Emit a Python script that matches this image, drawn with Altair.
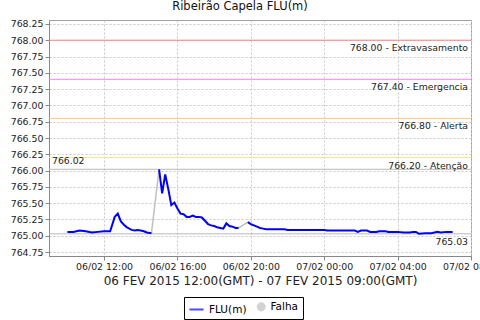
import altair as alt
import pandas as pd

# ---------------- data ----------------
seg1_t = ["2015-02-06T10:00", "2015-02-06T10:20", "2015-02-06T10:40", "2015-02-06T11:00",
          "2015-02-06T11:20", "2015-02-06T11:40", "2015-02-06T12:00", "2015-02-06T12:20",
          "2015-02-06T12:35", "2015-02-06T12:45", "2015-02-06T12:55", "2015-02-06T13:05",
          "2015-02-06T13:15", "2015-02-06T13:30", "2015-02-06T13:40", "2015-02-06T13:50",
          "2015-02-06T14:00", "2015-02-06T14:10", "2015-02-06T14:20", "2015-02-06T14:35"]
seg1_v = [765.06, 765.06, 765.08, 765.07, 765.05, 765.06, 765.07, 765.07,
          765.29, 765.34, 765.22, 765.17, 765.13, 765.09, 765.08, 765.09,
          765.08, 765.07, 765.05, 765.04]

seg2_t = ["2015-02-06T15:00", "2015-02-06T15:10", "2015-02-06T15:20", "2015-02-06T15:30",
          "2015-02-06T15:40", "2015-02-06T15:50", "2015-02-06T16:00", "2015-02-06T16:10",
          "2015-02-06T16:20", "2015-02-06T16:30", "2015-02-06T16:40", "2015-02-06T16:50",
          "2015-02-06T17:00", "2015-02-06T17:10", "2015-02-06T17:20", "2015-02-06T17:30",
          "2015-02-06T17:40", "2015-02-06T17:50", "2015-02-06T18:00", "2015-02-06T18:10",
          "2015-02-06T18:20", "2015-02-06T18:30", "2015-02-06T18:40", "2015-02-06T18:50",
          "2015-02-06T19:00", "2015-02-06T19:10", "2015-02-06T19:20"]
seg2_v = [766.02, 765.65, 765.94, 765.72, 765.47, 765.51, 765.42, 765.34,
          765.33, 765.29, 765.29, 765.31, 765.29, 765.29, 765.28, 765.23,
          765.18, 765.16, 765.15, 765.13, 765.12, 765.11, 765.19, 765.15,
          765.14, 765.12, 765.12]

seg3_t = ["2015-02-06T19:50", "2015-02-06T20:00", "2015-02-06T20:10", "2015-02-06T20:20",
          "2015-02-06T20:30", "2015-02-06T20:40", "2015-02-06T20:50", "2015-02-06T21:50",
          "2015-02-06T22:00", "2015-02-07T00:00", "2015-02-07T00:10", "2015-02-07T01:40",
          "2015-02-07T01:50", "2015-02-07T02:00", "2015-02-07T02:20", "2015-02-07T02:30",
          "2015-02-07T02:50", "2015-02-07T03:00", "2015-02-07T03:20", "2015-02-07T03:30",
          "2015-02-07T04:00", "2015-02-07T04:20", "2015-02-07T04:40", "2015-02-07T04:50",
          "2015-02-07T05:00", "2015-02-07T05:10", "2015-02-07T05:30", "2015-02-07T05:50",
          "2015-02-07T06:10", "2015-02-07T06:20", "2015-02-07T06:40", "2015-02-07T07:00"]
seg3_v = [765.21, 765.18, 765.16, 765.14, 765.12, 765.11, 765.10, 765.10,
          765.09, 765.09, 765.08, 765.08, 765.06, 765.08, 765.08, 765.06,
          765.06, 765.07, 765.07, 765.06, 765.06, 765.05, 765.05, 765.06,
          765.06, 765.03, 765.04, 765.04, 765.06, 765.05, 765.06, 765.06]

threshold_values = [768.00, 767.40, 766.80, 766.20]
threshold_names = ["Extravasamento", "Emergencia", "Alerta", "Atenção"]
threshold_colors = ["#ff8080", "#ff80ff", "#ffc880", "#f0e68c"]

y_ticks = [764.75, 765.00, 765.25, 765.50, 765.75, 766.00, 766.25,
           766.50, 766.75, 767.00, 767.25, 767.50, 767.75, 768.00, 768.25]
# x tick positions: (day, hour)
x_ticks = [(6, 12), (6, 16), (6, 20), (7, 0), (7, 4), (7, 8)]
x_domain = [(6, 9), (7, 8)]

series_names = ["FLU(m)", "Falha"]
series_colors = ["#0000ff", "#c0c0c0"]
series_shapes = ["stroke", "circle"]
series_sizes = [200, 50]

title_text = "Ribeirão Capela FLU(m)"
x_title = "06 FEV 2015 12:00(GMT) - 07 FEV 2015 09:00(GMT)"

# ---------------- tables ----------------
segs = [(seg1_t, seg1_v), (seg2_t, seg2_v), (seg3_t, seg3_v)]
rows = []
for i, (ts, vs) in enumerate(segs):
    for t, v in zip(ts, vs):
        rows.append({"t": t + ":00", "v": v, "series": "FLU(m)", "seg": f"s{i}"})
for i in range(len(segs) - 1):
    a_t, a_v = segs[i][0][-1], segs[i][1][-1]
    b_t, b_v = segs[i + 1][0][0], segs[i + 1][1][0]
    rows.append({"t": a_t + ":00", "v": a_v, "series": "Falha", "seg": f"f{i}"})
    rows.append({"t": b_t + ":00", "v": b_v, "series": "Falha", "seg": f"f{i}"})
df = pd.DataFrame(rows)

all_v = seg1_v + seg2_v + seg3_v
vmax, vmin = max(all_v), min(all_v)

thr = pd.DataFrame({
    "v": threshold_values,
    "label": [f"{v:.2f} - {n}" for v, n in zip(threshold_values, threshold_names)],
    "c": threshold_colors,
})
ext_max = pd.DataFrame({"v": [vmax], "label": [f"{vmax:.2f}"]})
ext_min = pd.DataFrame({"v": [vmin], "label": [f"{vmin:.2f}"]})

FONT = "DejaVu Sans"


def dt(d, h):
    return alt.DateTime(year=2015, month=2, date=d, hours=h)


x_enc = alt.X(
    "t:T",
    title=x_title,
    scale=alt.Scale(domain=[dt(*p) for p in x_domain]),
    axis=alt.Axis(
        format="%d/%m %H:%M",
        values=[dt(*p) for p in x_ticks],
        labelFlush=False,
        labelOverlap=False,
        grid=True,
        titlePadding=5,
        titleFontSize=12,
        titleFontWeight="normal",
    ),
)
y_scale = alt.Scale(domain=[764.69, 768.31], nice=False, zero=False)
y_enc = alt.Y("v:Q", title=None, scale=y_scale,
              axis=alt.Axis(values=y_ticks, format=".2f", labelOverlap=False, grid=True))

color_scale = alt.Scale(domain=series_names, range=series_colors)

thr_rules = alt.Chart(thr).mark_rule(strokeWidth=1).encode(
    y=y_enc, color=alt.Color("c:N", scale=None)
)
thr_text = alt.Chart(thr).mark_text(
    align="right", baseline="middle", dy=8, font=FONT, fontSize=9.3, color="#222"
).encode(x=alt.value(419), y=y_enc, text="label:N")

max_rule = alt.Chart(ext_max).mark_rule(strokeWidth=1, color="#b8b8b8").encode(y=y_enc)
min_rule = alt.Chart(ext_min).mark_rule(strokeWidth=1, color="#b8b8b8").encode(y=y_enc)
max_text = alt.Chart(ext_max).mark_text(
    align="left", baseline="middle", dy=-8, font=FONT, fontSize=9.3, color="#222"
).encode(x=alt.value(3), y=y_enc, text="label:N")
min_text = alt.Chart(ext_min).mark_text(
    align="right", baseline="middle", dy=8, font=FONT, fontSize=9.3, color="#222"
).encode(x=alt.value(419), y=y_enc, text="label:N")

legend = alt.Legend(
    title=None, orient="none", legendX=135, legendY=277, direction="horizontal",
    strokeColor="#000", padding=4, labelFont=FONT, labelFontSize=10.5,
    labelColor="#000", columnPadding=6, labelOffset=4, symbolStrokeWidth=2,
)

falha_line = alt.Chart(df).transform_filter(alt.datum.series == "Falha").mark_line(
    strokeWidth=1.5
).encode(x=x_enc, y=y_enc, detail="seg:N",
         color=alt.Color("series:N", scale=color_scale, legend=legend))
flu_line = alt.Chart(df).transform_filter(alt.datum.series == "FLU(m)").mark_line(
    strokeWidth=2
).encode(x=x_enc, y=y_enc, detail="seg:N",
         color=alt.Color("series:N", scale=color_scale, legend=legend))

# invisible layer (no rows) that only gives the legend its per-entry symbol shapes
legend_pts = alt.Chart(df).transform_filter("datum.v < 0").mark_point(filled=True).encode(
    x=x_enc, y=y_enc,
    color=alt.Color("series:N", scale=color_scale, legend=legend),
    shape=alt.Shape("series:N", scale=alt.Scale(domain=series_names, range=series_shapes),
                    legend=legend),
    size=alt.Size("series:N", scale=alt.Scale(domain=series_names, range=series_sizes),
                  legend=legend),
)

chart = alt.layer(
    thr_rules, max_rule, min_rule, thr_text, max_text, min_text, falha_line, flu_line,
    legend_pts
).properties(
    width=422,
    height=236,
    padding={"left": 49, "top": 20, "right": 9, "bottom": 64},
    autosize=alt.AutoSizeParams(type="none"),
    background="white",
    title=alt.TitleParams(title_text, font=FONT, fontSize=11.5, fontWeight="normal",
                          color="#111", dx=-20, offset=6),
).configure_view(
    stroke="#a0a0a0"
).configure_axis(
    labelFont=FONT, labelFontSize=9.4, labelColor="#222", titleFont=FONT, titleColor="#222",
    domainColor="#888", tickColor="#888", tickSize=4, labelOverlap=False,
    grid=True, gridColor="#c8c8c8", gridDash=[2, 2], gridOpacity=1, gridWidth=1,
)

chart.save("out.html", embed_options={"renderer": "svg", "actions": False})
